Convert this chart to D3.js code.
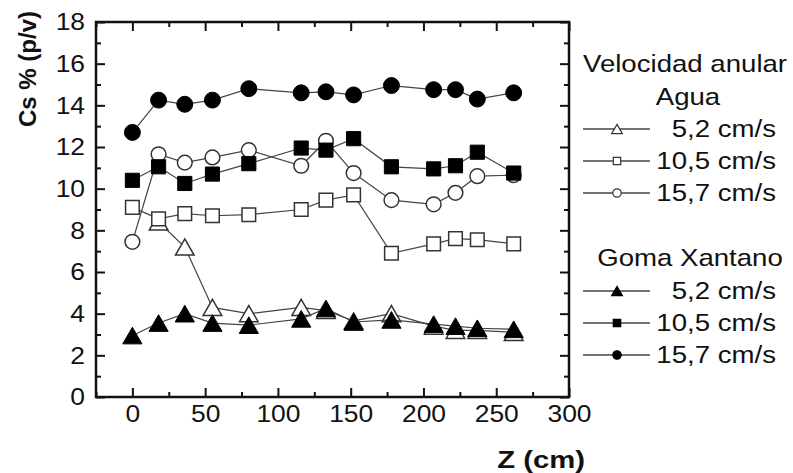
<!DOCTYPE html>
<meta charset="utf-8">
<head>
  <script src="https://d3js.org/d3.v7.min.js"></script>
  <style>
    body { margin: 0; background: #fff; }
    text { font-family: "Liberation Sans", Arial, sans-serif; fill: #111; }
  </style>
</head>
<body>
  <div id="chart"></div>
  <script>

    // positions along the column (cm)
    var zAgua5 = [18, 36, 55, 80, 116, 133, 152, 178, 207, 222, 237, 262];
    var zAll = [0, 18, 36, 55, 80, 116, 133, 152, 178, 207, 222, 237, 262];

    // Agua (open markers)
    var agua52 = [8.4, 7.2, 4.3, 4.0, 4.3, 4.15, 3.65, 4.0, 3.4, 3.2, 3.2, 3.1];
    var agua105 = [9.1, 8.55, 8.8, 8.7, 8.75, 9.0, 9.45, 9.7, 6.9, 7.35, 7.6, 7.55, 7.35];
    var agua157 = [7.45, 11.65, 11.25, 11.5, 11.85, 11.1, 12.3, 10.75, 9.45, 9.25, 9.8, 10.6, 10.65];

    // Goma Xantano (filled markers)
    var goma52 = [2.95, 3.55, 4.0, 3.55, 3.45, 3.75, 4.25, 3.6, 3.7, 3.5, 3.4, 3.3, 3.25];
    var goma105 = [10.4, 11.05, 10.25, 10.7, 11.2, 11.95, 11.85, 12.4, 11.05, 10.95, 11.1, 11.75, 10.75];
    var goma157 = [12.7, 14.25, 14.05, 14.25, 14.8, 14.6, 14.65, 14.5, 14.95, 14.75, 14.75, 14.3, 14.6];

    var xTicks = [0, 50, 100, 150, 200, 250, 300];
    var xMinor = [-25, 25, 75, 125, 175, 225, 275];
    var yTicks = [0, 2, 4, 6, 8, 10, 12, 14, 16, 18];
    var yMinor = [1, 3, 5, 7, 9, 11, 13, 15, 17];

    var seriesLabels = ["5,2 cm/s", "10,5 cm/s", "15,7 cm/s"];

    var margin = { top: 22, right: 224, bottom: 76, left: 96 },
      width = 793 - margin.left - margin.right,
      height = 473 - margin.top - margin.bottom;

    var svg = d3.select("#chart")
      .append("svg")
      .attr("width", 793)
      .attr("height", 473);

    var g = svg.append("g")
      .attr("transform", "translate(" + margin.left + "," + margin.top + ")");

    var x = d3.scaleLinear().domain([-25, 300]).range([0, width]);
    var y = d3.scaleLinear().domain([0, 18]).range([height, 0]);

    // axes with inward ticks
    g.append("g")
      .attr("transform", "translate(0," + height + ")")
      .call(d3.axisBottom(x).tickValues(xTicks).tickSize(-9).tickPadding(8));
    g.append("g")
      .attr("transform", "translate(0," + height + ")")
      .call(d3.axisBottom(x).tickValues(xMinor).tickSize(-5).tickFormat(""));
    g.append("g")
      .call(d3.axisTop(x).tickValues(xTicks).tickSize(-9).tickFormat(""));
    g.append("g")
      .call(d3.axisTop(x).tickValues(xMinor).tickSize(-5).tickFormat(""));

    g.append("g")
      .call(d3.axisLeft(y).tickValues(yTicks).tickSize(-9).tickPadding(10));
    g.append("g")
      .call(d3.axisLeft(y).tickValues(yMinor).tickSize(-5).tickFormat(""));
    g.append("g")
      .attr("transform", "translate(" + width + ",0)")
      .call(d3.axisRight(y).tickValues(yTicks).tickSize(-9).tickFormat(""));
    g.append("g")
      .attr("transform", "translate(" + width + ",0)")
      .call(d3.axisRight(y).tickValues(yMinor).tickSize(-5).tickFormat(""));

    g.selectAll(".domain").remove();
    g.selectAll(".tick line").attr("stroke", "#111").attr("stroke-width", 2);
    g.selectAll(".tick text")
      .attr("font-size", 24)
      .attr("font-family", "Liberation Sans, Arial, sans-serif")
      .attr("fill", "#111")
      .attr("transform", "scale(1.1,1)");

    // frame
    g.append("rect")
      .attr("width", width)
      .attr("height", height)
      .attr("fill", "none")
      .attr("stroke", "#111")
      .attr("stroke-width", 2.5);

    // series definitions
    var series = [
      { xs: zAgua5, ys: agua52, sym: d3.symbolTriangle, size: 150, filled: false },
      { xs: zAll, ys: agua105, sym: d3.symbolSquare, size: 185, filled: false },
      { xs: zAll, ys: agua157, sym: d3.symbolCircle, size: 170, filled: false },
      { xs: zAll, ys: goma52, sym: d3.symbolTriangle, size: 160, filled: true },
      { xs: zAll, ys: goma105, sym: d3.symbolSquare, size: 200, filled: true },
      { xs: zAll, ys: goma157, sym: d3.symbolCircle, size: 200, filled: true }
    ];

    // d3 triangles sit on their centroid; shift so the box is centred on the value
    function symOffset(sym, size) {
      if (sym !== d3.symbolTriangle) return 0;
      var side = Math.sqrt(size / (Math.sqrt(3) / 4));
      return side * Math.sqrt(3) / 2 / 6;
    }

    var line = d3.line()
      .x(function (d) { return x(d[0]); })
      .y(function (d) { return y(d[1]); });

    series.forEach(function (s) {
      var pts = s.xs.map(function (v, i) { return [v, s.ys[i]]; });
      var off = symOffset(s.sym, s.size);
      g.append("path")
        .datum(pts)
        .attr("fill", "none")
        .attr("stroke", "#444")
        .attr("stroke-width", 1.2)
        .attr("d", line);
      g.selectAll(null)
        .data(pts)
        .enter()
        .append("path")
        .attr("transform", function (d) { return "translate(" + x(d[0]) + "," + (y(d[1]) + off) + ")"; })
        .attr("d", d3.symbol().type(s.sym).size(s.size))
        .attr("fill", s.filled ? "#000" : "#fff")
        .attr("stroke", s.filled ? "#000" : "#333")
        .attr("stroke-width", s.filled ? 1 : 1.5);
    });

    // helper for horizontally widened text
    function label(parent, tx, ty, str, anchor, size, weight, sx) {
      return parent.append("text")
        .attr("transform", "translate(" + tx + "," + ty + ") scale(" + sx + ",1)")
        .attr("text-anchor", anchor)
        .attr("dy", "0.35em")
        .attr("font-size", size)
        .attr("font-weight", weight)
        .text(str);
    }

    // axis titles
    svg.append("text")
      .attr("transform", "translate(28,69) rotate(-90)")
      .attr("text-anchor", "middle")
      .attr("dy", "0.35em")
      .attr("font-size", 24)
      .attr("font-weight", "bold")
      .text("Cs % (p/v)");
    label(svg, 585, 460, "Z (cm)", "end", 24, "bold", 1.22);

    // legend
    var leg = svg.append("g");
    label(leg, 583, 64, "Velocidad anular", "start", 24, "normal", 1.15);
    label(leg, 688, 97, "Agua", "middle", 24, "normal", 1.15);
    label(leg, 690, 258, "Goma Xantano", "middle", 24, "normal", 1.15);

    var legSyms = [d3.symbolTriangle, d3.symbolSquare, d3.symbolCircle];
    var legSizes = [50, 55, 55];
    var legRows = [
      { y0: 129, filled: false },
      { y0: 291, filled: true }
    ];
    legRows.forEach(function (r) {
      seriesLabels.forEach(function (t, i) {
        var yy = r.y0 + i * 32;
        leg.append("line")
          .attr("x1", 583).attr("x2", 650)
          .attr("y1", yy).attr("y2", yy)
          .attr("stroke", "#444").attr("stroke-width", 1.5);
        leg.append("path")
          .attr("transform", "translate(617," + (yy + symOffset(legSyms[i], legSizes[i])) + ")")
          .attr("d", d3.symbol().type(legSyms[i]).size(legSizes[i]))
          .attr("fill", r.filled ? "#000" : "#fff")
          .attr("stroke", r.filled ? "#000" : "#333")
          .attr("stroke-width", 1.2);
        label(leg, 776, yy, t, "end", 24, "normal", 1.15);
      });
    });

  </script>
</body>
